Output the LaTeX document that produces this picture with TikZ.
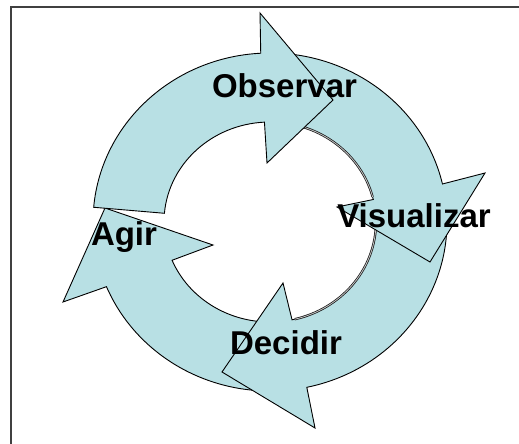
\documentclass[tikz,border=0pt]{standalone}
\usepackage{fontspec}
\setmainfont{Liberation Sans}
\usetikzlibrary{calc}
\definecolor{cyc}{RGB}{184,224,228}
\begin{document}
\begin{tikzpicture}[x=1pt,y=-1pt,
  arr/.style={fill=cyc,draw=black,line width=0.9pt,line join=miter},
  edgetwo/.style={draw=black!90,line width=0.75pt,double=gray!45,double distance=0.8pt},
  lbl/.style={font=\bfseries\fontsize{33}{33}\selectfont,anchor=base,inner sep=0pt},
  ob/.style={x radius=177,y radius=169},
  ib/.style={x radius=106,y radius=100}]
\useasboundingbox (0,0) rectangle (519,444);
\draw[line width=1.4pt,draw=black!75] (11,444) -- (11,7) -- (519,7);
\coordinate (C) at (270,222);
% Agir
\path[arr] ($(C)+(90:177 and 169)$) arc[ob,start angle=90,end angle=157.5]
  -- (63,302) -- (105,208) -- (213,245)
  -- ($(C)+(157.5:106 and 100)$) arc[ib,start angle=157.5,end angle=90] -- cycle;
% Decidir
\path[arr] ($(C)+(0:177 and 169)$) arc[ob,start angle=0,end angle=78]
  -- (315,428) -- (222,372) -- (283,283)
  -- ($(C)+(78:106 and 100)$) arc[ib,start angle=78,end angle=0] -- cycle;
\draw[edgetwo] ($(C)+(76.5:106 and 100)$) arc[ib,start angle=76.5,end angle=2];
% Visualizar
\path[arr] ($(C)+(270:177 and 169)$) arc[ob,start angle=270,end angle=347]
  -- (485,173) -- (430,262) -- (337,207)
  -- ($(C)+(347:106 and 100)$) arc[ib,start angle=347,end angle=270] -- cycle;
\draw[edgetwo] ($(C)+(345.5:106 and 100)$) arc[ib,start angle=345.5,end angle=272];
% Observar
\path[arr] ($(C)+(185:177 and 169)$) arc[ob,start angle=185,end angle=267]
  -- (260,13) -- (333,100) -- (267,163)
  -- ($(C)+(267:106 and 100)$) arc[ib,start angle=267,end angle=185] -- cycle;
% labels
\node[lbl] (obs) at (284.5,97) {Observar};
\node[lbl] (vis) at (414,227) {Visualizar};
\node[lbl] (dec) at (286,354) {Decidir};
\node[lbl] (agi) at (124,245) {Agir};
\end{tikzpicture}
\end{document}
